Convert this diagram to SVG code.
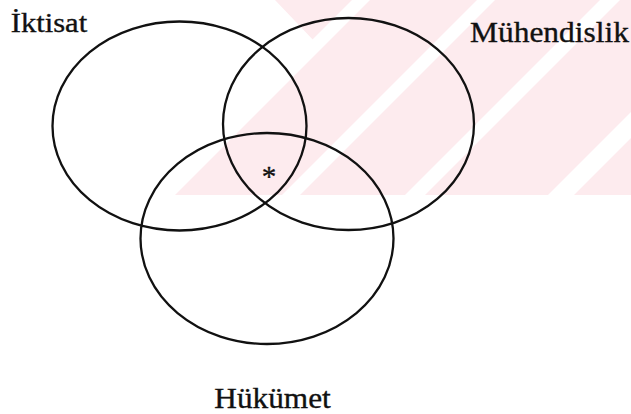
<svg xmlns="http://www.w3.org/2000/svg" width="631" height="414" viewBox="0 0 631 414">
  <style>
    .set { fill: none; stroke: #111; stroke-width: 2.3; }
    .label { font-family: "Liberation Serif", "Times New Roman", serif; fill: #111; stroke: #111; stroke-width: 0.35; }
    .mark { fill: #fdebee; }
    .gap { fill: #ffffff; }
  </style>
  <rect width="631" height="414" fill="#ffffff"/>

  <!-- background watermark: pale chevron crossed by diagonal gaps -->
  <g id="watermark">
    <polygon class="mark" points="275,0 631,0 631,195 165,195 315,42"/>
    <polygon class="gap" points="352,0 370,0 175,195 157,195"/>
    <polygon class="gap" points="477,0 495,0 300,195 282,195"/>
    <polygon class="gap" points="600,0 620,0 425,195 405,195"/>
    <polygon class="gap" points="631,112 631,138 574,195 548,195"/>
  </g>

  <g id="iktisat">
    <ellipse class="set" cx="179.5" cy="126" rx="127" ry="104.5"/>
    <text class="label" x="10.7" y="31.7" font-size="27" textLength="76.5" lengthAdjust="spacingAndGlyphs">İktisat</text>
  </g>

  <g id="muhendislik">
    <ellipse class="set" cx="348.5" cy="124" rx="125.5" ry="106"/>
    <text class="label" x="470" y="41.7" font-size="30" textLength="159" lengthAdjust="spacingAndGlyphs">Mühendislik</text>
  </g>

  <g id="hukumet">
    <ellipse class="set" cx="267" cy="238.5" rx="126.5" ry="105.5"/>
    <text class="label" x="214.3" y="408" font-size="30" textLength="116.5" lengthAdjust="spacingAndGlyphs">Hükümet</text>
  </g>

  <!-- common region of all three sets -->
  <g id="intersection">
    <text class="label" x="269" y="186" font-size="29" text-anchor="middle">*</text>
  </g>
</svg>
